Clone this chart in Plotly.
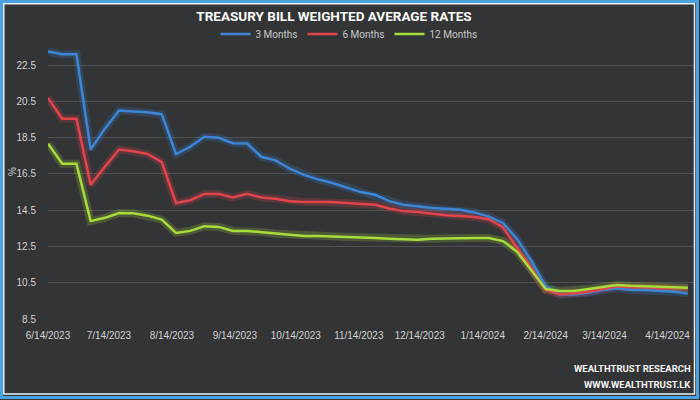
import plotly.graph_objects as go
import pandas as pd

dates = pd.date_range("2023-06-14", periods=46, freq="7D")

three_months = [23.25, 23.1, 23.1, 17.85, 19.0, 20.0, 19.95, 19.9, 19.8, 17.6,
                18.0, 18.55, 18.5, 18.2, 18.18, 17.45, 17.25, 16.8, 16.45, 16.2,
                16.0, 15.75, 15.5, 15.35, 15.0, 14.8, 14.7, 14.62, 14.58, 14.52,
                14.38, 14.15, 13.8, 12.9, 11.7, 10.3, 9.85, 9.85, 9.95, 10.1,
                10.2, 10.1, 10.1, 10.05, 10.0, 9.9]
six_months = [20.7, 19.55, 19.55, 15.9, 16.9, 17.85, 17.75, 17.6, 17.15, 14.9,
              15.05, 15.4, 15.4, 15.2, 15.4, 15.2, 15.13, 15.0, 14.96, 14.96,
              14.96, 14.9, 14.85, 14.8, 14.6, 14.45, 14.4, 14.3, 14.22, 14.18,
              14.13, 14.0, 13.55, 12.4, 11.3, 10.1, 9.85, 9.9, 10.0, 10.15,
              10.3, 10.25, 10.25, 10.2, 10.2, 10.2]
twelve_months = [18.17, 17.06, 17.06, 13.9, 14.08, 14.35, 14.33, 14.2, 13.98, 13.25,
                 13.36, 13.62, 13.58, 13.36, 13.36, 13.3, 13.2, 13.14, 13.08, 13.08,
                 13.06, 13.03, 13.0, 12.97, 12.93, 12.9, 12.87, 12.92, 12.95, 12.97,
                 12.97, 12.97, 12.8, 12.2, 11.2, 10.15, 10.05, 10.05, 10.15, 10.28,
                 10.38, 10.33, 10.3, 10.27, 10.25, 10.22]

series_names = ["3 Months", "6 Months", "12 Months"]
series_values = [three_months, six_months, twelve_months]
series_colors = ["#3d86d6", "#e2444c", "#a8dc3c"]
glow_colors = ["rgba(61,134,214,0.22)", "rgba(226,68,76,0.22)", "rgba(168,220,60,0.22)"]

x_tick_dates = ["2023-06-14", "2023-07-14", "2023-08-14", "2023-09-14", "2023-10-14",
                "2023-11-14", "2023-12-14", "2024-01-14", "2024-02-14", "2024-03-14",
                "2024-04-14"]
x_tick_labels = ["6/14/2023", "7/14/2023", "8/14/2023", "9/14/2023", "10/14/2023",
                 "11/14/2023", "12/14/2023", "1/14/2024", "2/14/2024", "3/14/2024",
                 "4/14/2024"]
y_tick_vals = [8.5, 10.5, 12.5, 14.5, 16.5, 18.5, 20.5, 22.5]

BG = "#323436"
W, H = 700, 400
ML, MR, MT, MB = 48, 6, 38, 81
PW, PH = W - ML - MR, H - MT - MB

def px(xp):
    return (xp - ML) / PW

def py(yp):
    return (H - MB - yp) / PH

fig = go.Figure()
for name, vals, gc in zip(series_names, series_values, glow_colors):
    fig.add_trace(go.Scatter(x=dates, y=vals, mode="lines", showlegend=False,
                             hoverinfo="skip",
                             line=dict(color=gc, width=8)))
for name, vals, c in zip(series_names, series_values, series_colors):
    fig.add_trace(go.Scatter(x=dates, y=vals, mode="lines", name=name,
                             line=dict(color=c, width=2.5)))

tick_font = dict(family="Liberation Sans, Arial, sans-serif", size=10, color="#d2d2d2")

fig.update_layout(
    width=W, height=H,
    margin=dict(l=ML, r=MR, t=MT, b=MB, pad=0),
    paper_bgcolor=BG, plot_bgcolor=BG,
    title=dict(text="<b>TREASURY BILL WEIGHTED AVERAGE RATES</b>",
               x=334 / W, xref="container", xanchor="center",
               y=1 - 16 / H, yref="container", yanchor="middle",
               font=dict(family="Roboto, sans-serif", size=13.5, color="#ffffff")),
    legend=dict(orientation="h", x=px(349), xanchor="center", y=py(34), yanchor="middle",
                font=dict(family="Roboto, sans-serif", size=10, color="#c8c8c8"),
                bgcolor="rgba(0,0,0,0)", itemwidth=30, tracegroupgap=0),
    xaxis=dict(type="date", range=["2023-06-14", "2024-04-27"],
               tickvals=x_tick_dates, ticktext=x_tick_labels,
               showgrid=False, zeroline=False, showline=False,
               ticks="outside", ticklen=7, tickcolor="rgba(0,0,0,0)",
               tickfont=tick_font),
    yaxis=dict(range=[8.5, 24.0], tickvals=y_tick_vals,
               ticktext=[f"{v:.1f}" for v in y_tick_vals],
               showgrid=True, gridcolor="#4d4f51", gridwidth=1,
               zeroline=False, showline=False,
               ticks="outside", ticklen=9, tickcolor="rgba(0,0,0,0)",
               tickfont=tick_font),
    annotations=[
        dict(text="%", x=px(12), y=py(172), xref="paper", yref="paper",
             xanchor="center", yanchor="middle",
             showarrow=False, textangle=-90,
             font=dict(family="Liberation Sans, Arial, sans-serif", size=10, color="#d2d2d2")),
        dict(text="<b>WEALTHTRUST RESEARCH</b>", x=px(693), y=py(368), xref="paper", yref="paper",
             xanchor="right", yanchor="middle", showarrow=False,
             font=dict(family="Roboto, sans-serif", size=9.5, color="#f2f2f2")),
        dict(text="<b>WWW.WEALTHTRUST.LK</b>", x=px(693), y=py(384), xref="paper", yref="paper",
             xanchor="right", yanchor="middle", showarrow=False,
             font=dict(family="Roboto, sans-serif", size=9.5, color="#f2f2f2")),
    ],
    shapes=[
        dict(type="rect", xref="paper", yref="paper",
             x0=px(1.5), x1=px(697.5), y0=py(397.5), y1=py(1.5),
             line=dict(color="#4aa3df", width=3), layer="above"),
        dict(type="rect", xref="paper", yref="paper",
             x0=px(3.8), x1=px(694.5), y0=py(394), y1=py(3.8),
             line=dict(color="#e8f2fa", width=1.5), layer="above"),
    ],
)

fig.write_html("out.html", config={"displayModeBar": False},
               post_script="document.body.style.margin='0';document.body.style.padding='0';")
